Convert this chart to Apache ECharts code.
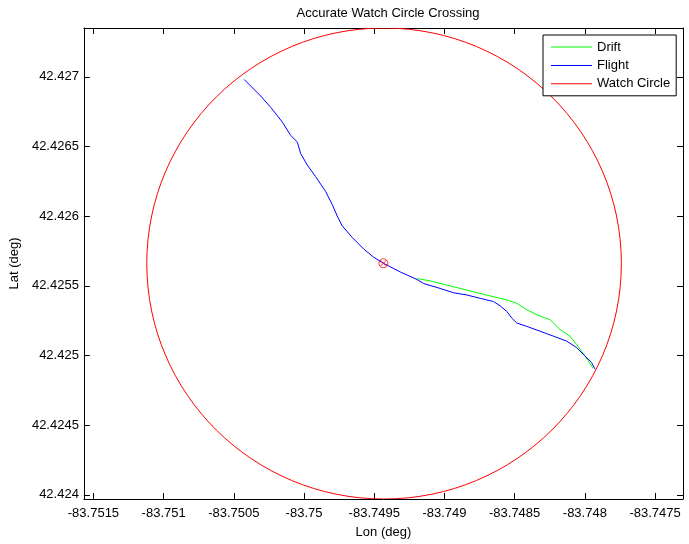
<!DOCTYPE html>
<html>
<head>
<meta charset="utf-8">
<script src="https://cdn.jsdelivr.net/npm/echarts@6/dist/echarts.min.js"></script>
<style>html,body{margin:0;padding:0;background:#fff}#c{width:689px;height:544px}</style>
</head>
<body>
<div id="c"></div>
<script>
// ---- data ----
const xTicks = [-83.7515, -83.751, -83.7505, -83.75, -83.7495, -83.749, -83.7485, -83.748, -83.7475];
const yTicks = [42.424, 42.4245, 42.425, 42.4255, 42.426, 42.4265, 42.427];
const xRange = [-83.751568, -83.747301];
const yRange = [42.42397, 42.42735];

const flightLon = [-83.750427, -83.750309, -83.750237, -83.750154, -83.750095, -83.750048, -83.750024, -83.749977, -83.749918, -83.749847, -83.749799, -83.749764, -83.749728, -83.749657, -83.749575, -83.749504, -83.749437, -83.749314, -83.749195, -83.749148, -83.749053, -83.748935, -83.748840, -83.748746, -83.748651, -83.748603, -83.748556, -83.748520, -83.748485, -83.748414, -83.748319, -83.748225, -83.748130, -83.748058, -83.748000, -83.747952, -83.747928];
const flightLat = [42.426981, 42.426862, 42.426780, 42.426674, 42.426579, 42.426532, 42.426449, 42.426367, 42.426284, 42.426178, 42.426083, 42.426001, 42.425930, 42.425847, 42.425764, 42.425705, 42.425663, 42.425599, 42.425545, 42.425516, 42.425488, 42.425450, 42.425434, 42.425410, 42.425387, 42.425356, 42.425316, 42.425268, 42.425233, 42.425209, 42.425174, 42.425139, 42.425103, 42.425056, 42.424997, 42.424949, 42.424903];

const driftLon = [-83.749195, -83.749101, -83.748982, -83.748888, -83.748793, -83.748674, -83.748556, -83.748485, -83.748414, -83.748343, -83.748248, -83.748177, -83.748106, -83.748058, -83.748012, -83.747976, -83.747941];
const driftLat = [42.425552, 42.425535, 42.425505, 42.425481, 42.425457, 42.425427, 42.425399, 42.425375, 42.425328, 42.425292, 42.425257, 42.425186, 42.425139, 42.425078, 42.425015, 42.424962, 42.424908];

const circleCenter = [-83.74943, 42.42566];
const circleRadius = 0.00169;
const crossingPoint = [-83.749435, 42.425662];

// ---- chart ----
const FONT = "'Liberation Sans', Arial, sans-serif";
const zip = (a, b) => a.map((v, i) => [v, b[i]]);
const fmt = v => String(v);

const chart = echarts.init(document.getElementById('c'));
const axisLine = { show: true, onZero: false, lineStyle: { color: '#000', width: 1 } };

chart.setOption({
  animation: false,
  backgroundColor: '#fff',
  title: {
    text: 'Accurate Watch Circle Crossing',
    left: 383, top: 2, textAlign: 'center',
    textStyle: { fontFamily: FONT, fontSize: 13, fontWeight: 'normal', color: '#000' }
  },
  legend: {
    orient: 'vertical', left: 543, top: 35,
    data: ['Drift', 'Flight', 'Watch Circle'],
    icon: 'rect', itemWidth: 41, itemHeight: 1, itemGap: 4.4,
    padding: [5, 6, 5, 8],
    borderColor: '#000', borderWidth: 1, backgroundColor: '#fff',
    textStyle: { fontFamily: FONT, fontSize: 13, lineHeight: 14, color: '#000' }
  },
  grid: { left: 83, right: 6, top: 28, bottom: 40, containLabel: false },
  xAxis: [{
    type: 'value', position: 'bottom', min: xRange[0], max: xRange[1],
    name: 'Lon (deg)', nameLocation: 'middle', nameGap: 27,
    nameTextStyle: { fontFamily: FONT, fontSize: 13, color: '#000' },
    axisLine,
    axisTick: { show: true, inside: true, length: 6, customValues: xTicks, lineStyle: { color: '#000' } },
    axisLabel: { customValues: xTicks, formatter: fmt, margin: 8, fontFamily: FONT, fontSize: 13, color: '#000' },
    splitLine: { show: false }
  }, {
    type: 'value', position: 'top', min: xRange[0], max: xRange[1],
    axisLine,
    axisTick: { show: true, inside: true, length: 6, customValues: xTicks, lineStyle: { color: '#000' } },
    axisLabel: { show: false },
    splitLine: { show: false }
  }],
  yAxis: [{
    type: 'value', position: 'left', min: yRange[0], max: yRange[1],
    name: 'Lat (deg)', nameLocation: 'middle', nameGap: 57,
    nameTextStyle: { fontFamily: FONT, fontSize: 13, color: '#000' },
    axisLine,
    axisTick: { show: true, inside: true, length: 6, customValues: yTicks, lineStyle: { color: '#000' } },
    axisLabel: { customValues: yTicks, formatter: fmt, margin: 5, fontFamily: FONT, fontSize: 13, color: '#000' },
    splitLine: { show: false }
  }, {
    type: 'value', position: 'right', min: yRange[0], max: yRange[1],
    axisLine,
    axisTick: { show: true, inside: true, length: 6, customValues: yTicks, lineStyle: { color: '#000' } },
    axisLabel: { show: false },
    splitLine: { show: false }
  }],
  series: [{
    name: 'Drift', type: 'line', xAxisIndex: 0, yAxisIndex: 0,
    data: zip(driftLon, driftLat), showSymbol: false, symbol: 'none',
    color: '#00ff00', lineStyle: { color: '#00ff00', width: 1 }, z: 3
  }, {
    name: 'Flight', type: 'line', xAxisIndex: 0, yAxisIndex: 0,
    data: zip(flightLon, flightLat), showSymbol: false, symbol: 'none',
    color: '#0000ff', lineStyle: { color: '#0000ff', width: 1 }, z: 4
  }, {
    name: 'Watch Circle', type: 'custom', xAxisIndex: 0, yAxisIndex: 0,
    color: '#ff0000', itemStyle: { color: '#ff0000' }, clip: true, z: 2,
    data: [[circleCenter[0], circleCenter[1], circleRadius]],
    renderItem: (params, api) => {
      const c = api.coord([api.value(0), api.value(1)]);
      const s = api.size([api.value(2), api.value(2)]);
      return {
        type: 'ellipse',
        shape: { cx: c[0], cy: c[1], rx: s[0], ry: s[1] },
        style: { fill: 'none', stroke: '#ff0000', lineWidth: 1 }
      };
    }
  }, {
    name: 'crossing', type: 'scatter', xAxisIndex: 0, yAxisIndex: 0,
    data: [crossingPoint], symbolSize: 9,
    symbol: 'path://M0,-10A10,10 0 1,1 0,10A10,10 0 1,1 0,-10ZM-7.07,-7.07L7.07,7.07M-7.07,7.07L7.07,-7.07',
    itemStyle: { color: 'none', borderColor: '#ff0000', borderWidth: 1 }, z: 5
  }]
});
</script>
</body>
</html>
